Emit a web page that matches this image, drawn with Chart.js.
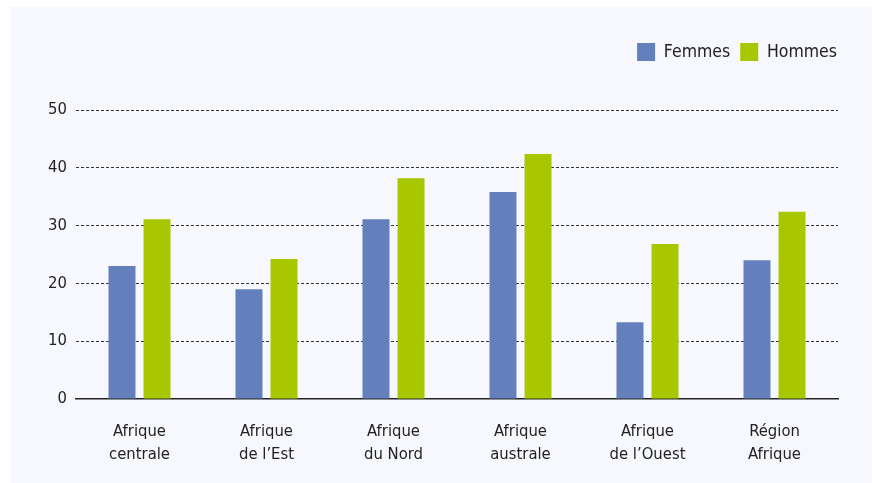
<!DOCTYPE html>
<html>
<head>
<meta charset="utf-8">
<script src="https://cdn.jsdelivr.net/npm/chart.js@4"></script>
<style>
  body { margin: 0; background: #ffffff; }
  .panel { position: absolute; left: 10px; top: 7px; width: 862px; height: 476px; background: #f6f8fd; }
</style>
</head>
<body>
<div class="panel"><canvas id="grafico"></canvas></div>
<script>
// données
const regions = [
    ['Afrique', 'centrale'],
    ['Afrique', 'de l\u2019Est'],
    ['Afrique', 'du Nord'],
    ['Afrique', 'australe'],
    ['Afrique', 'de l\u2019Ouest'],
    ['Région', 'Afrique']
];
const femmes = [23.0, 19.0, 31.1, 35.8, 13.3, 24.0];
const hommes = [31.1, 24.2, 38.2, 42.4, 26.8, 32.4];
const yTicks = [0, 10, 20, 30, 40, 50];

const police = "'DejaVu Sans Condensed', 'Roboto', sans-serif";

// espace entre la légende et le graphique
const legendGap = {
    id: 'legendGap',
    beforeInit(chart) {
        const fit = chart.legend.fit;
        chart.legend.fit = function () {
            fit.bind(chart.legend)();
            this.height += 39;
        };
    }
};

const ctx = document.getElementById('grafico');

new Chart(ctx, {
    type: 'bar',
    data: {
        labels: regions,
        datasets: [{
            label: 'Femmes',
            data: femmes,
            backgroundColor: '#6380bd'
        }, {
            label: 'Hommes',
            data: hommes,
            backgroundColor: '#a8c700'
        }]
    },
    options: {
        responsive: true,
        maintainAspectRatio: false,
        animation: false,
        layout: { padding: { top: 26, right: 25, left: 0, bottom: 0 } },
        datasets: {
            bar: { categoryPercentage: 0.552, barPercentage: 0.77 }
        },
        plugins: {
            tooltip: { enabled: false },
            legend: {
                position: 'top',
                align: 'end',
                labels: {
                    boxWidth: 18,
                    boxHeight: 18,
                    padding: 10,
                    color: '#222',
                    font: { family: police, size: 17.5 }
                }
            }
        },
        scales: {
            x: {
                grid: { display: false },
                border: { color: '#222', width: 1.5 },
                ticks: {
                    color: '#222',
                    padding: 13,
                    maxRotation: 0,
                    font: { family: police, size: 16.5, lineHeight: 1.42 }
                },
                afterFit(axis) { axis.height = 84; }
            },
            y: {
                min: 0,
                max: 50,
                afterBuildTicks(axis) { axis.ticks = yTicks.map(v => ({ value: v })); },
                border: { display: false, dash: [3, 2] },
                grid: {
                    drawTicks: false,
                    color: c => c.tick.value === 0 ? 'rgba(0,0,0,0)' : '#333',
                    lineWidth: 1
                },
                ticks: {
                    color: '#222',
                    padding: 9,
                    font: { family: police, size: 16.5 }
                },
                afterFit(axis) { axis.width = 66; }
            },
            marge: {
                position: 'right',
                display: true,
                grid: { display: false },
                border: { display: false },
                ticks: { display: false },
                afterFit(axis) { axis.width = 9; }
            }
        }
    },
    plugins: [legendGap]
});
</script>
</body>
</html>
